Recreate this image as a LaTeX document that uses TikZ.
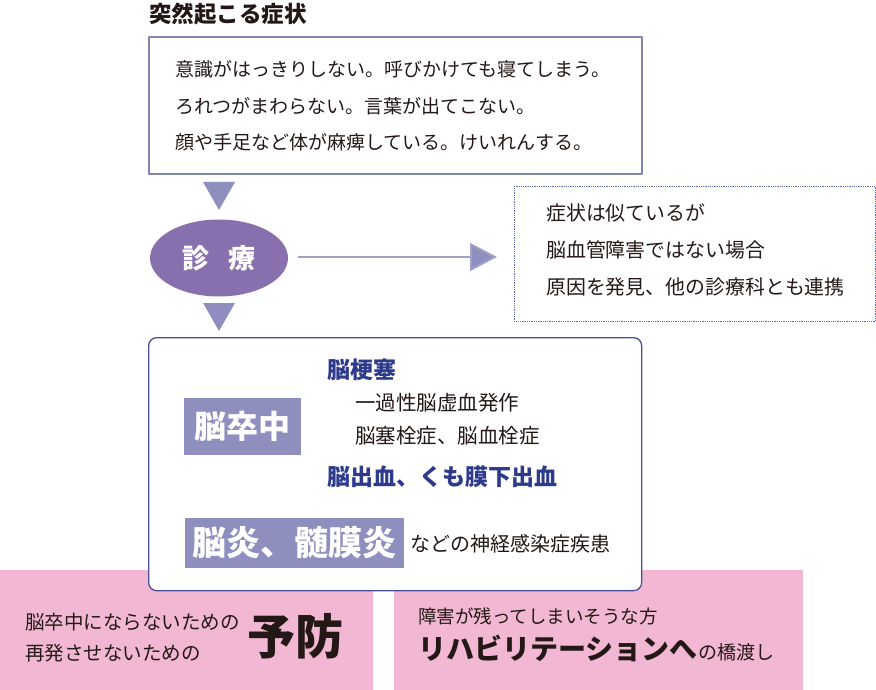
\documentclass[tikz,border=0pt]{standalone}
\usepackage{fontspec}
\setmainfont{Noto Sans CJK JP}
\usetikzlibrary{shapes.geometric,arrows.meta}
\definecolor{lav}{HTML}{8F8FBF}
\definecolor{violet}{HTML}{8870AE}
\definecolor{frame}{HTML}{8484B4}
\definecolor{edge}{HTML}{4B4E9C}
\definecolor{navy}{HTML}{2E3A8C}
\definecolor{ink}{HTML}{231815}
\definecolor{rose}{HTML}{F2B8D3}
\definecolor{dots}{HTML}{5F6AA8}
\begin{document}
\begin{tikzpicture}[x=1pt,y=-1pt, line join=round,
  body/.style={anchor=west, inner sep=0pt, text=ink, font=\fontsize{19}{21}\selectfont},
  head/.style={anchor=west, inner sep=0pt, text=navy, font=\fontsize{23}{25}\selectfont\bfseries},
  tag/.style={fill=lav, text=white, inner sep=0pt, font=\fontsize{32}{34}\selectfont\bfseries},
  tri/.style={fill=lav}]
\useasboundingbox (0,0) rectangle (876,690);
% pink bands
\fill[rose] (0,570) rectangle (373,690);
\fill[rose] (394,570) rectangle (803,690);
% symptoms
\node[anchor=west, inner sep=0pt, text=ink, font=\fontsize{22.5}{24}\selectfont\bfseries] (title) at (149,14) {突然起こる症状};
\node[draw=frame, line width=1.6pt, anchor=north west, minimum width=493, minimum height=137, inner sep=0pt] (sym) at (148,36) {};
\foreach \t/\yy [count=\i] in {意識がはっきりしない。呼びかけても寝てしまう。/69, ろれつがまわらない。言葉が出てこない。/106, 顔や手足など体が麻痺している。けいれんする。/142}
  \node[body] (sym\i) at (175,\yy) {\t};
\foreach \yy in {182,303}
  \fill[tri] (203,\yy) -- (235,\yy) -- (219,\yy+28) -- cycle;
% diagnosis
\node[ellipse, fill=violet, minimum width=138, minimum height=77, inner sep=0pt, text=white, font=\fontsize{27}{29}\selectfont\bfseries] (diag) at (219,258) {診\hspace{20pt}療};
\node[draw=dots, densely dotted, line width=0.8pt, anchor=north west, minimum width=361, minimum height=135, inner sep=0pt] (other) at (514,186) {};
\foreach \t/\yy [count=\i] in {症状は似ているが/213, 脳血管障害ではない場合/250, 原因を発見、他の診療科とも連携/287}
  \node[body, font=\fontsize{19.9}{21}\selectfont] (other\i) at (546,\yy) {\t};
\draw[lav!85!white, line width=2pt, shorten <=10pt, shorten >=17pt, -{Triangle[length=27pt,width=28pt,fill=lav]}] ([yshift=1pt]diag.east) -- ([yshift=1pt]diag.east -| other.west);
% diseases
\node[draw=edge, line width=1.3pt, fill=white, rounded corners=8pt, anchor=north west, minimum width=493, minimum height=253, inner sep=0pt] (main) at (148,337) {};
\node[tag, minimum width=117, minimum height=57] (stroke) at (242.5,426) {脳卒中};
\node[head] (inf) at (327,370) {脳梗塞};
\node[body, font=\fontsize{20.5}{22}\selectfont] (tia) at (355,403) {一過性脳虚血発作};
\node[body, font=\fontsize{20.5}{22}\selectfont] (emb) at (355,436) {脳塞栓症、脳血栓症};
\node[head] (hem) at (327,477) {脳出血、くも膜下出血};
\node[tag, minimum width=219, minimum height=50, font=\fontsize{34}{36}\selectfont\bfseries] (enc) at (294,543) {脳炎、髄膜炎};
\node[body, font=\fontsize{20}{22}\selectfont] (neuro) at (410,544) {などの神経感染症疾患};
% prevention / rehabilitation
\node[body, font=\fontsize{19.5}{21}\selectfont] (prev1) at (25,622) {脳卒中にならないための};
\node[body, font=\fontsize{19.5}{21}\selectfont] (prev2) at (25,653) {再発させないための};
\node[body, font=\fontsize{48}{50}\selectfont\bfseries] (prev) at (247,636) {予防};
\node[body, font=\fontsize{18.5}{20}\selectfont] (reh1) at (418,616) {障害が残ってしまいそうな方};
\node[body, anchor=base west, font=\fontsize{28}{30}\selectfont\bfseries] (reh) at (418,659) {リハビリテーションへ};
\node[body, anchor=base west, font=\fontsize{19}{21}\selectfont] (reh2) at (reh.base east) {の橋渡し};
\end{tikzpicture}
\end{document}
